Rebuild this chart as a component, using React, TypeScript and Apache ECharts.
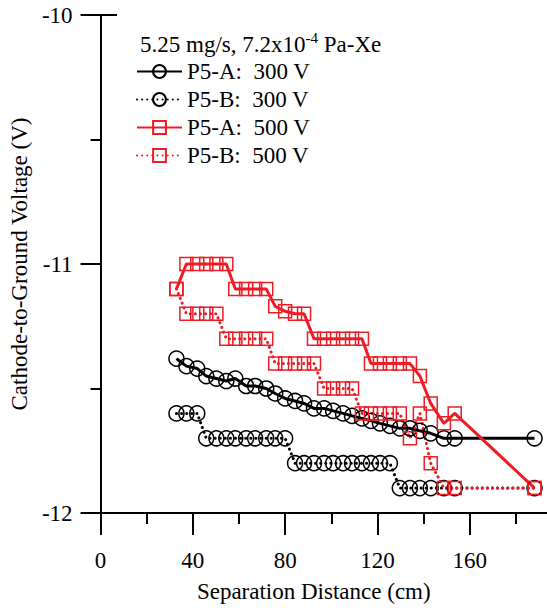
import React, { useEffect, useRef } from "react";
import * as echarts from "echarts";

const distance = [32.9, 37.2, 41.9, 45.8, 50.2, 54.5, 58.4, 63.1, 67.0, 71.8, 75.7, 80.0, 84.3, 88.2, 92.5, 96.9, 100.8, 105.1, 109.0, 113.3, 117.2, 121.1, 125.4, 129.7, 134.1, 138.4, 143.1, 148.8, 153.5, 188.1];

const p5a300 = [-11.38, -11.41, -11.42, -11.45, -11.46, -11.47, -11.46, -11.49, -11.49, -11.5, -11.52, -11.54, -11.55, -11.56, -11.58, -11.58, -11.59, -11.6, -11.61, -11.62, -11.63, -11.64, -11.65, -11.66, -11.66, -11.67, -11.68, -11.7, -11.7, -11.7];

const p5b300 = [-11.6, -11.6, -11.6, -11.7, -11.7, -11.7, -11.7, -11.7, -11.7, -11.7, -11.7, -11.7, -11.8, -11.8, -11.8, -11.8, -11.8, -11.8, -11.8, -11.8, -11.8, -11.8, -11.8, -11.9, -11.9, -11.9, -11.9, -11.9, -11.9, -11.9];

const p5a500 = [-11.1, -11.0, -11.0, -11.0, -11.0, -11.0, -11.1, -11.1, -11.1, -11.1, -11.17, -11.19, -11.2, -11.2, -11.3, -11.3, -11.3, -11.3, -11.3, -11.3, -11.4, -11.4, -11.4, -11.4, -11.4, -11.45, -11.56, -11.64, -11.6, -11.9];

const p5b500 = [-11.1, -11.2, -11.2, -11.2, -11.2, -11.3, -11.3, -11.3, -11.3, -11.3, -11.4, -11.4, -11.4, -11.4, -11.4, -11.5, -11.5, -11.5, -11.5, -11.6, -11.6, -11.6, -11.6, -11.6, -11.7, -11.6, -11.8, -11.9, -11.9, -11.9];

const seriesNames = ["P5-A:  300 V", "P5-B:  300 V", "P5-A:  500 V", "P5-B:  500 V"];
const xMajor = [0, 40, 80, 120, 160];
const xMinor = [20, 60, 100, 140, 180];
const yTicks = [-12, -11, -10];

const FONT = "Liberation Serif, Times New Roman, serif";
const RED = "#ee1c25";
const FS = 23;
const X_MAX = 193.5;

function pairs(vals: number[]) {
  return vals.map((v, i) => [distance[i], v]);
}

export default function App() {
  const ref = useRef<HTMLDivElement>(null);
  useEffect(() => {
    if (!ref.current) return;
    const chart = echarts.init(ref.current, null, { renderer: "svg" });
    const dotted = [0.1, 5];
    const mk = (name: string, vals: number[], color: string, symbol: string, size: number, dashed: boolean) => ({
      name,
      type: "line",
      data: pairs(vals),
      symbol,
      symbolSize: size,
      showAllSymbol: true,
      clip: false,
      itemStyle: { color: "transparent", borderColor: color, borderWidth: 1.5 },
      lineStyle: dashed
        ? { color, width: 3, type: dotted, cap: "round" }
        : { color, width: 3 },
      emphasis: { disabled: true },
    });
    chart.setOption({
      animation: false,
      backgroundColor: "#fff",
      title: {
        text: "{a|5.25 mg/s, 7.2x10}{s|-4}{a| Pa-Xe}",
        left: 135,
        top: 25,
        textStyle: {
          fontWeight: "normal",
          rich: {
            a: { fontFamily: FONT, fontSize: FS, fontWeight: "normal", color: "#000", lineHeight: 26, verticalAlign: "bottom" },
            s: { fontFamily: FONT, fontSize: 15, fontWeight: "normal", color: "#000", lineHeight: 15, verticalAlign: "top" },
          },
        },
      },
      legend: {
        orient: "vertical",
        left: 131,
        top: 55,
        itemWidth: 45,
        itemHeight: 16,
        itemGap: 5,
        data: seriesNames,
        textStyle: { fontFamily: FONT, fontSize: FS, color: "#000", lineHeight: 23 },
        selectedMode: false,
      },
      grid: { left: 97, right: 0, top: 15, bottom: 88, containLabel: false },
      xAxis: [
        {
          type: "value",
          min: 0,
          max: X_MAX,
          interval: 40,
          name: "Separation Distance (cm)",
          nameLocation: "middle",
          nameGap: 67,
          nameTextStyle: { fontFamily: FONT, fontSize: FS, color: "#000", padding: [0, 20, 0, 0] },
          axisLine: { onZero: false, lineStyle: { color: "#000", width: 2 } },
          axisTick: { show: true, inside: false, length: 22, customValues: xMajor, lineStyle: { color: "#000", width: 2 } },
          splitLine: { show: false },
          axisLabel: {
            margin: 36,
            fontFamily: FONT,
            fontSize: FS,
            color: "#000",
            customValues: xMajor,
            formatter: (v: number) => (xMajor.includes(v) ? String(v) : ""),
          },
        },
        {
          type: "value",
          position: "bottom",
          min: 0,
          max: X_MAX,
          interval: 20,
          axisLine: { show: false, onZero: false },
          axisTick: { show: true, inside: false, length: 11, customValues: xMinor, lineStyle: { color: "#000", width: 2 } },
          axisLabel: { show: false },
          splitLine: { show: false },
        },
      ],
      yAxis: {
        type: "value",
        min: -12,
        max: -10,
        interval: 1,
        name: "Cathode-to-Ground Voltage (V)",
        nameLocation: "middle",
        nameGap: 66,
        nameTextStyle: { fontFamily: FONT, fontSize: FS, color: "#000" },
        axisLine: { onZero: false, lineStyle: { color: "#000", width: 2 } },
        axisTick: { show: true, inside: false, length: 20, lineStyle: { color: "#000", width: 2 } },
        minorTick: { show: true, splitNumber: 2, length: 10, lineStyle: { color: "#000", width: 2 } },
        splitLine: { show: false },
        axisLabel: {
          margin: 28,
          fontFamily: FONT,
          fontSize: FS,
          color: "#000",
          formatter: (v: number) => (yTicks.includes(v) ? String(v) : ""),
        },
      },
      graphic: [
        { type: "line", shape: { x1: 97, y1: 15, x2: 117, y2: 15 }, style: { stroke: "#000", lineWidth: 2 } },
      ],
      series: [
        mk(seriesNames[0], p5a300, "#000", "circle", 15, false),
        mk(seriesNames[1], p5b300, "#000", "circle", 15, true),
        mk(seriesNames[2], p5a500, RED, "rect", 13, false),
        mk(seriesNames[3], p5b500, RED, "rect", 13, true),
      ],
    });
    return () => chart.dispose();
  }, []);
  return <div ref={ref} style={{ position: "absolute", left: 0, top: 0, width: 547, height: 608, background: "#fff" }} />;
}
